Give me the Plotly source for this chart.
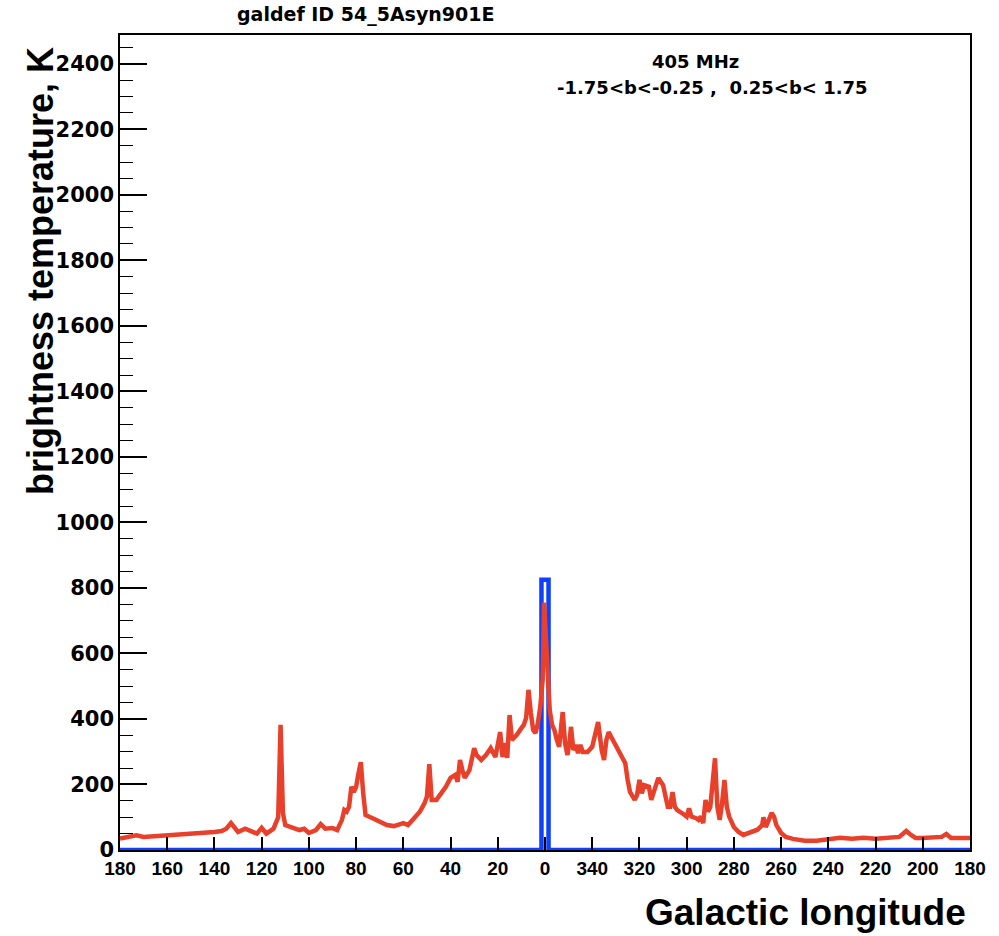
import plotly.graph_objects as go

# Galactic longitude runs 180 -> 0 -> 360(=0) -> 180; longitudes above 180 are stored as l-360
red_l = [180, 176, 173, 170, 165, 160, 155, 150, 145, 140, 137, 135, 133, 131, 130, 127, 124, 122,
         120, 118, 115, 113, 112, 111, 110, 107, 104, 102, 100, 97, 95, 93, 90, 88, 86, 85, 84, 83,
         82, 81, 80, 79, 78, 77, 76, 73, 70, 67, 64, 60, 58, 56, 53, 51, 50, 49, 48, 46, 44, 42, 40,
         38, 37, 36, 35, 34, 32, 30, 29, 27, 25, 23, 21, 20, 19, 18, 17, 16, 15, 14, 12, 10, 9, 8, 7,
         6, 5, 4, 3, 2, 1, 0.4, -0.5, -1.4, -2, -3, -4, -5, -6, -7, -7.5, -8.5, -9.5, -10.5, -11,
         -12, -13, -14, -15, -16, -18, -20, -21, -22.5, -24, -25, -26, -27, -28, -30, -32, -34, -35,
         -36, -38, -39, -40, -41, -42, -44, -45, -46, -48, -50, -51, -52, -53, -54, -55, -56, -58,
         -60, -61, -62, -64, -65, -66, -67, -68, -69, -70, -71, -72, -73, -74, -75, -76, -77, -78,
         -80, -82, -84, -86, -88, -90, -92, -92.5, -93.5, -95, -96, -97, -98, -100, -102, -105,
         -110, -115, -120, -125, -130, -135, -140, -145, -150, -152, -153, -155, -157, -160, -165,
         -168, -170, -172, -175, -180]
red_T = [35, 40, 45, 40, 42, 45, 47, 50, 52, 55, 58, 65, 82, 62, 55, 65, 55, 50,
         68, 50, 65, 100, 382, 113, 76, 67, 61, 65, 52, 61, 79, 65, 67, 61, 92, 122, 117, 132,
         193, 177, 193, 234, 268, 173, 107, 97, 87, 76, 73, 82, 76, 92, 117, 143, 163, 262, 153, 153, 173, 193, 220,
         229, 208, 275, 244, 220, 244, 311, 290, 275, 290, 311, 284, 321, 360, 284, 326, 281, 412, 336, 351, 372, 382, 403, 489,
         418, 366, 357, 388, 437, 519, 755, 620, 479, 427, 382, 366, 336, 315, 388, 421, 326, 290, 336, 376,
         305, 321, 296, 321, 299, 299, 315, 346, 391, 305, 275, 336, 360, 346, 321, 296, 265, 214,
         177, 153, 168, 214, 173, 198, 193, 153, 177, 220, 198, 163, 132, 132, 177, 132, 122, 113,
         102, 127, 102, 97, 92, 102, 82, 153, 117, 132, 193, 280, 132, 92, 143, 214, 132, 102,
         70, 55, 46, 52, 55, 62, 76, 100, 70, 97, 113, 102, 76, 52, 40, 34,
         28, 28, 34, 37, 34, 37, 34, 37, 40, 52, 58, 46, 37, 37, 40,
         40, 49, 37, 37, 37]

# Model histogram: a single bin around the Galactic centre
blue_l = [180, 1.5, -1.5, -180]
blue_T = [0, 825, 0, 0]

tick_vals = list(range(180, -181, -20))
tick_text = ["180", "160", "140", "120", "100", "80", "60", "40", "20", "0",
             "340", "320", "300", "280", "260", "240", "220", "200", "180"]

FONT = "Liberation Sans, Arial, Helvetica, sans-serif"
WIDE = "DejaVu Sans, Verdana, sans-serif"

fig = go.Figure()
fig.add_trace(go.Scatter(x=blue_l, y=blue_T, mode="lines", line_shape="hv",
                         line=dict(color="#1040FF", width=4.5), cliponaxis=False,
                         showlegend=False, hoverinfo="skip"))
fig.add_trace(go.Scatter(x=red_l, y=red_T, mode="lines",
                         line=dict(color="#E8402A", width=4.5),
                         showlegend=False, hoverinfo="skip"))

fig.update_layout(
    width=999, height=936,
    margin=dict(l=120, r=29, t=35, b=86),
    paper_bgcolor="white", plot_bgcolor="white",
    font=dict(family=FONT, color="black"),
    xaxis=dict(range=[180, -180], tickmode="array", tickvals=tick_vals, ticktext=tick_text,
               ticks="inside", ticklen=13, tickwidth=1.5, tickcolor="black",
               showline=True, linecolor="black", linewidth=1.5, mirror=True,
               showgrid=False, zeroline=False,
               tickfont=dict(family=FONT, size=19, weight="bold", color="black")),
    yaxis=dict(range=[0, 2488], tickmode="linear", tick0=0, dtick=200,
               ticks="inside", ticklen=27, tickwidth=1.5, tickcolor="black",
               minor=dict(ticks="inside", ticklen=13, tickwidth=1.2, tickcolor="black", dtick=50),
               showline=True, linecolor="black", linewidth=1.5, mirror=True,
               showgrid=False, zeroline=False,
               tickfont=dict(family=WIDE, size=21, weight="bold", color="black")),
)

def px_x(p):
    return (p - 120) / 850.0

def px_y(p):
    return (850 - p) / 815.0

annotations = [
    dict(text="galdef ID 54_5Asyn901E", x=px_x(365), y=px_y(15), size=19),
    dict(text="405 MHz", x=px_x(695), y=px_y(61), size=18),
    dict(text="-1.75&lt;b&lt;-0.25 ,  0.25&lt;b&lt; 1.75", x=px_x(712), y=px_y(88), size=18),
]
for a in annotations:
    fig.add_annotation(text=a["text"], x=a["x"], y=a["y"], xref="paper", yref="paper",
                       xanchor="center", yanchor="middle", showarrow=False,
                       font=dict(family=WIDE, size=a["size"], weight="bold", color="black"))

fig.add_annotation(text="Galactic longitude", x=px_x(968), y=px_y(912), xref="paper", yref="paper",
                   xanchor="right", yanchor="middle", showarrow=False,
                   font=dict(family=FONT, size=37, weight="bold", color="black"))
fig.add_annotation(text="brightness temperature, K", x=px_x(40), y=px_y(45), xref="paper", yref="paper",
                   xanchor="center", yanchor="top", textangle=-90, showarrow=False,
                   font=dict(family=FONT, size=36, weight="bold", color="black"))

fig.write_html("out.html")
